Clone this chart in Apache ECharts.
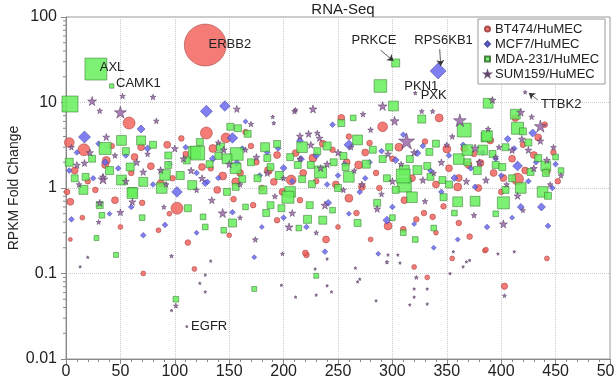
<!DOCTYPE html>
<html>
<head>
<meta charset="utf-8">
<script src="https://cdn.jsdelivr.net/npm/echarts@6/dist/echarts.min.js"></script>
<style>
  html, body { margin: 0; padding: 0; background: #fff; }
  #chart { width: 615px; height: 384px; }
</style>
</head>
<body>
<div id="chart"></div>
<script>
// [gene index, fold change, expression weight]
const bt474 = [
  [128,47,110],[58,5.75,9],[3,3.4,6],[16.5,2.8,9],[69,3.0,3],[37,2.1,4],[102,0.58,9],[112,0.23,2],
  [4,0.25,1],[71,0.1,1.5],[118,0.113,1.5],[221,0.165,2],[320,0.119,1.5],[332,0.09,1.5],[385,0.185,1.5],
  [403,0.071,2.5],[442,0.15,1.5],[129,4.4,9],[147,3.85,6],[144,1.38,4],[156,1.18,4],[139,0.95,3],
  [194,2.43,3],[211,2.56,3],[227,2.24,4],[207,1.24,6],[191,1.18,3],[125,1.76,3],[133,1.7,2],[343,6.6,4],
  [291,5.2,6],[253,6.6,3],[279,3.36,2],[350,2.86,4],[269,1.86,4],[272,1.03,3],[260,0.76,4],[360,1.03,4],
  [370,1.86,3],[413,6.6,3],[430,2.43,3],[381,1.96,3],[393,1.5,3],[415,1.27,9],[402,1.31,3],[322,0.43,2],
  [337,0.46,2],[329,0.51,2],[361,0.39,2],[371,0.27,2],[347,0.61,2],[311,0.72,3],[386,0.19,1.5],[172,0.63,2],
  [215,0.72,2],[267,0.51,2],[296,0.36,4],[239,0.25,3],[194,0.42,2],[310,0.33,2],[220,0.174,2],[93,3.2,3],
  [36,1.86,3],[87,1.14,3],[45,0.72,3],[4,0.69,3],[1,0.9,2],[70,0.67,2],[154,0.74,2],[361,1.31,3],
  [442,1.58,3],[20,1.2,2],[60,1.5,2],[110,2.5,2],[175,2.0,2],[245,2.8,2],[285,1.5,2],[330,3.5,2],
  [375,2.5,2],[420,3.2,2],[440,5.5,2],[165,4.5,2],[95,0.5,1.5],[50,0.35,1.5],[260,4.0,2],[300,2.2,2],
  [400,0.9,2],[230,1.2,2],[180,1.0,2],[280,0.25,1.5],[355,0.15,1.5],
  [8,1.6,3],[27,0.95,2],[42,3.1,2],[63,2.3,3],[78,1.8,3],[98,1.3,2],[106,3.8,2],[135,2.9,4],
  [160,1.5,3],[170,3.1,2],[186,1.6,4],[199,0.9,3],[218,1.5,3],[236,3.3,3],[248,1.1,3],[258,2.0,3],
  [275,2.6,3],[288,1.0,2],[306,3.0,4],[318,1.3,3],[340,1.1,3],[352,1.7,3],[366,2.9,3],[379,1.0,3],
  [390,3.6,3],[410,2.2,3],[422,1.6,3],[434,3.9,3],[448,2.6,2],[452,1.2,2],[15,0.45,1.5],[85,0.32,1.5],
  [150,0.28,1.5],[250,0.35,1.5],[340,0.3,1.5]
];
const mcf7 = [
  [342,23.4,16],[129,7.9,9],[146,9.1,7],[69,4.9,4],[17,3.95,9],[36,2.0,3],[3,1.6,2],[102,0.9,7],
  [91,0.37,2],[5,0.43,2],[71,0.28,2],[173,0.155,1.5],[238,0.18,2],[287,0.17,1.5],[153,3.85,7],[157,1.96,3],
  [128,1.14,3],[215,3.55,3],[216,2.18,3],[200,1.71,3],[140,1.31,2],[260,3.2,6],[323,2.56,3],[303,2.12,3],
  [279,2.0,2],[357,1.31,3],[429,4.4,4],[406,3.74,3],[415,1.81,6],[376,1.03,2],[418,0.6,3],[437,0.6,4],
  [443,0.36,2],[338,0.2,1.5],[387,0.35,2],[241,0.67,3],[295,0.42,4],[221,0.35,2],[130,1.18,2],[153,0.52,2],
  [25,1.3,2],[55,2.4,2],[80,1.1,2],[110,3.0,2],[185,2.6,2],[250,1.4,2],[270,0.9,2],[310,4.2,2],
  [335,1.6,2],[365,3.2,2],[395,2.2,2],[425,1.2,2],[450,1.9,2],[200,0.45,2],[300,0.6,2],[60,0.6,2],
  [245,5.5,2],[165,6.0,1.5],
  [10,2.6,2],[30,3.3,2],[48,1.7,2],[75,2.9,3],[95,1.9,2],[120,1.5,2],[135,2.2,3],[162,2.9,2],
  [178,1.4,2],[195,2.9,2],[208,1.2,2],[230,2.4,3],[240,1.1,2],[256,1.9,2],[275,1.3,2],[290,2.7,2],
  [315,1.2,2],[328,3.1,2],[345,0.9,2],[352,2.4,2],[372,1.7,2],[383,2.6,2],[400,1.4,2],[412,2.9,2],
  [432,2.0,2],[447,1.0,2],[40,0.5,1.5],[120,0.3,1.5],[180,0.35,1.5],[260,0.5,1.5],[320,0.38,1.5],
  [360,0.25,1.5],[410,0.45,1.5]
];
const mda231 = [
  [27.5,24.6,30],[42,15.6,1.2],[3.7,9.6,16],[303,29,4],[289,15.6,10],[51,3.6,6],[69,3.6,5],[36,2.9,9],
  [94,2.4,3],[118,2.6,9],[111,2.1,3],[3,2.0,4],[59,1.76,4],[91,1.42,7],[71,1.18,5],[51,1.24,6],
  [116,1.08,5],[88,1.0,7],[16,0.95,5],[61,0.9,5],[112,0.58,3],[33,0.48,2],[126,0.46,2],[128,0.35,2],
  [145,0.32,2],[28,0.26,1.5],[46,0.165,1.5],[101,0.05,2],[173,0.066,1.5],[230,0.094,1.5],[151,5.2,3],
  [158,5.0,3],[167,4.3,3],[123,3.45,3],[121,2.56,12],[157,2.5,10],[148,2.2,6],[140,2.37,3],[156,1.7,7],
  [162,1.27,3],[181,0.95,4],[183,3.0,5],[194,3.27,3],[217,3.0,7],[231,2.7,3],[206,2.3,3],[213,1.86,3],
  [225,1.86,3],[234,1.54,9],[217,1.27,3],[188,1.76,3],[185,2.24,3],[226,1.11,3],[206,0.9,7],[246,2.0,3],
  [301,9.1,6],[327,6.4,4],[366,4.76,12],[253,5.75,3],[264,6.6,2],[268,3.65,6],[297,3.0,3],[334,2.64,3],
  [361,2.18,7],[369,2.78,7],[316,2.18,3],[255,2.37,3],[291,2.18,3],[257,1.76,3],[311,1.62,6],[323,1.62,5],
  [332,1.81,3],[335,1.35,3],[311,1.08,12],[260,1.35,7],[303,0.95,3],[318,0.78,7],[346,1.24,3],[388,9.8,6],
  [413,7.3,6],[415,5.0,9],[386,3.95,6],[383,2.78,6],[404,3.0,3],[434,2.24,3],[441,1.81,6],[395,1.86,3],
  [401,1.76,3],[369,2.0,3],[427,1.54,3],[441,1.5,3],[418,1.0,7],[438,0.9,7],[443,0.81,3],[404,0.95,3],
  [402,0.67,9],[321,0.25,2],[338,0.34,2],[357,0.51,2],[376,0.7,6],[360,0.69,6],[347,0.78,3],[310,0.3,2],
  [387,4.06,7],[420,4.6,3],[310,1.38,12],[204,0.78,9],[224,0.63,3],[198,0.58,3],[184,0.51,3],[153,0.39,4],
  [222,0.43,4],[236,0.42,4],[268,0.39,3],[286,0.67,3],[214,0.34,2],[188,0.63,3],[18,1.35,3],[94,1.86,3],
  [61,0.87,7],[31,0.63,3],[156,1.03,3],[148,0.9,3],
  [8,1.3,3],[24,2.2,3],[40,1.6,4],[55,2.7,3],[80,3.2,3],[105,1.4,4],[132,1.9,3],[142,3.0,4],
  [170,2.0,3],[176,1.3,3],[196,1.4,4],[240,3.1,4],[250,1.0,3],[276,1.9,4],[282,2.8,3],[295,1.3,3],
  [340,3.3,3],[352,1.1,3],[378,1.6,4],[392,2.5,3],[410,1.3,3],[425,3.4,3],[450,2.3,2],[455,1.6,2],
  [70,0.45,2],[165,0.6,2],[245,0.55,2],[300,0.45,2],[395,0.5,2]
];
const sum159 = [
  [321,12.9,1],[422,13.2,1],[24,10.4,5],[52,11.9,2],[80,11.6,2],[50,7.7,9],[31,8,2],[83,6.1,2],
  [37,3.95,3],[17,1.96,3],[71,1.54,3],[34,1.27,6],[50,0.52,3],[144,0.51,5],[13,0.12,0.5],[20,0.155,0.5],
  [97,0.16,1],[101,0.042,1.5],[111,0.024,0.4],[157,8.4,3],[190,6.8,1],[210,7.9,2],[227,8.4,4],[170,5.6,2],
  [191,5.75,1],[145,2.8,3],[225,3.2,3],[234,1.71,3],[215,4.05,3],[223,4.3,3],[233,3.84,3],[231,4.4,2],
  [291,9.1,5],[302,6.1,5],[362,6.2,10],[273,7.3,2],[313,3.55,16],[328,1.24,3],[327,7.9,1.5],[337,7.9,1.5],
  [392,10.7,3],[418,7.7,4],[436,5.3,9],[436,3.55,3],[428,6.8,2],[388,4.9,2],[419,3.74,3],[376,2.93,4],
  [410,2.78,3],[425,2.78,3],[442,2.12,3],[386,1.24,3],[402,0.38,4],[375,0.48,2],[238,0.63,4],[208,0.51,3],
  [286,0.57,3],[205,0.35,4],[174,0.25,2],[10,1.86,3],[34,1.35,3],[87,1.62,3],[31,0.67,3],[61,0.69,3],
  [134,0.72,3],[415,0.81,3],[211,8.2,1.5],
  [97,0.037,0.5],[123,0.077,0.5],[128,0.096,0.5],[128,0.061,0.5],[133,0.14,0.5],[199,0.17,1],[198,0.073,0.5],
  [211,0.053,0.5],[229,0.113,0.5],[230,0.056,0.5],[240,0.072,0.5],[240,0.148,0.5],[244,0.061,0.5],
  [266,0.116,0.5],[268,0.08,0.5],[270,0.086,0.5],[285,0.048,0.5],[295,0.136,1],[296,0.165,0.5],
  [305,0.165,0.5],[307,0.133,0.5],[316,0.043,0.5],[322,0.09,1],[320,0.066,0.5],[320,0.053,0.5],
  [332,0.066,0.5],[332,0.044,0.5],[353,0.1,0.5],[356,0.18,0.5],[365,0.12,0.5],[368,0.137,0.5],
  [371,0.143,0.5],[397,0.17,0.5],[403,0.055,1],[412,0.18,0.5],
  [5,3.0,2],[45,2.4,2],[65,2.0,3],[100,2.9,3],[115,1.6,3],[140,3.4,2],[175,2.3,3],[200,1.3,2],
  [250,2.6,3],[265,1.6,2],[280,4.8,2],[300,1.2,3],[345,2.0,3],[355,4.0,2],[395,2.3,2],[445,1.1,2],
  [455,1.4,2],[120,0.95,2],[255,0.95,2],[290,0.85,2],[160,1.1,2],
  [12,1.1,2],[22,2.6,3],[55,1.2,3],[75,2.5,2],[92,1.1,2],[108,2.2,3],[125,1.3,3],[150,1.9,3],
  [165,2.8,2],[185,1.5,3],[192,0.8,2],[215,2.2,2],[240,1.9,3],[262,3.0,2],[272,1.1,3],[296,2.5,3],
  [308,1.9,2],[320,2.6,3],[338,1.5,2],[350,3.2,2],[368,1.2,3],[380,2.0,3],[398,3.0,2],[405,1.1,2],
  [430,1.7,3],[448,3.0,2],[30,0.4,1.5],[90,0.6,1.5],[160,0.45,1.5],[230,0.3,1.5],[330,0.7,2],[420,0.55,1.5]
];

// gene labels: text anchor (data coords) and optional arrow to the point
const notes = [
  { name: "ERBB2", at: [131, 48], align: "left" },
  { name: "AXL", at: [31, 26], align: "left" },
  { name: "CAMK1", at: [46, 16.5], align: "left" },
  { name: "PRKCE", at: [283, 53], align: "center", from: [289, 41], to: [301, 30.6] },
  { name: "RPS6KB1", at: [347, 53], align: "center", from: [343.5, 42], to: [344.4, 26.7] },
  { name: "PKN1", at: [311, 15.6], align: "left" },
  { name: "PXK", at: [326, 12.2], align: "left" },
  { name: "TTBK2", at: [436.5, 9.6], align: "left", from: [433.7, 10.7], to: [425.4, 12.9] },
  { name: "EGFR", at: [115, 0.0243], align: "left" }
];

const FONT = "Liberation Sans";
const STAR = "path://M50,0 L61,35 L98,35 L68,57 L79,91 L50,70 L21,91 L32,57 L2,35 L39,35 Z";

function scatter(name, data, symbol, fill, stroke) {
  return {
    name: name,
    type: "scatter",
    data: data,
    symbol: symbol,
    symbolSize: (v) => 4 * Math.sqrt(v[2]),
    itemStyle: { color: fill, borderColor: stroke, borderWidth: 0.6, opacity: 0.85 },
    emphasis: { disabled: true }
  };
}

const chart = echarts.init(document.getElementById("chart"));

const series = [
  scatter("BT474/HuMEC", bt474, "circle", "#f2645e", "#9a3a36"),
  scatter("MCF7/HuMEC", mcf7, "diamond", "#6a68ee", "#3c3c9a"),
  scatter("MDA-231/HuMEC", mda231, "rect", "#66ee5c", "#2f6e2a"),
  scatter("SUM159/HuMEC", sum159, STAR, "#9b6aa8", "#4e3358")
];
series[3].markLine = {
  silent: true,
  symbol: ["none", "arrow"],
  symbolSize: 6,
  label: { show: false },
  lineStyle: { color: "#333", width: 0.8, type: "solid" },
  data: notes.filter((n) => n.from).map((n) => [{ coord: n.from }, { coord: n.to }])
};

chart.setOption({
  animation: false,
  backgroundColor: "#fff",
  title: {
    text: "RNA-Seq",
    left: 338,
    top: -3,
    textAlign: "center",
    textStyle: { fontFamily: FONT, fontSize: 15, fontWeight: "normal", color: "#222" }
  },
  grid: {
    left: 66, right: 5, top: 17, bottom: 25,
    outerBoundsMode: "none", containLabel: false,
    show: true, borderColor: "#999", borderWidth: 1
  },
  legend: {
    orient: "vertical",
    left: 478,
    top: 19,
    padding: [3, 6, 3, 6],
    itemGap: 1,
    itemWidth: 5,
    itemHeight: 5,
    backgroundColor: "#fff",
    borderColor: "#999",
    borderWidth: 1,
    borderRadius: 0,
    textStyle: { fontFamily: FONT, fontSize: 13, color: "#222", lineHeight: 14 }
  },
  xAxis: {
    type: "value",
    min: 0,
    max: 500,
    interval: 50,
    axisLine: { lineStyle: { color: "#888" } },
    axisTick: { length: 5, lineStyle: { color: "#888" } },
    minorTick: { show: true, splitNumber: 5, length: 3, lineStyle: { color: "#888" } },
    splitLine: { show: true, lineStyle: { color: "#ccc", type: "dotted" } },
    axisLabel: { fontFamily: FONT, fontSize: 16, color: "#222", margin: 5, hideOverlap: false }
  },
  yAxis: {
    type: "log",
    logBase: 10,
    min: 0.01,
    max: 100,
    name: "RPKM Fold Change",
    nameLocation: "middle",
    nameGap: 45,
    nameMoveOverlap: false,
    nameTextStyle: { fontFamily: FONT, fontSize: 14, color: "#222" },
    axisLine: { show: true, lineStyle: { color: "#888" } },
    axisTick: { length: 5, lineStyle: { color: "#888" } },
    splitLine: { show: true, lineStyle: { color: "#ccc", type: "dotted" } },
    axisLabel: { fontFamily: FONT, fontSize: 16, color: "#222", margin: 9 }
  },
  series: series
});

// gene name labels and log minor ticks, placed through the axes
const graphics = notes.map((n) => {
  const p = chart.convertToPixel({ gridIndex: 0 }, n.at);
  return {
    type: "text",
    x: p[0],
    y: p[1],
    z: 100,
    style: { text: n.name, fill: "#222", font: "13px " + FONT, align: n.align, verticalAlign: "middle" }
  };
});
const x0 = chart.convertToPixel({ xAxisIndex: 0 }, 0);
[0.01, 0.1, 1, 10].forEach((d) => {
  for (let k = 2; k <= 9; k++) {
    const y = chart.convertToPixel({ yAxisIndex: 0 }, k * d);
    graphics.push({ type: "line", silent: true, shape: { x1: x0 - 3, y1: y, x2: x0, y2: y }, style: { stroke: "#888", lineWidth: 1 } });
  }
});
chart.setOption({ graphic: graphics });
</script>
</body>
</html>
